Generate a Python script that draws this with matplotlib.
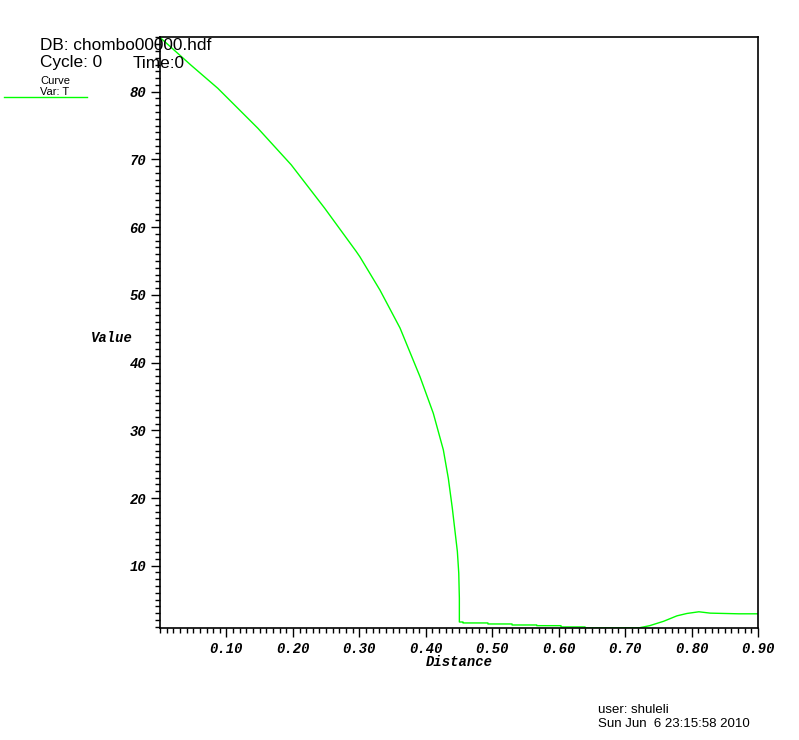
import matplotlib
matplotlib.use("Agg")
import matplotlib.pyplot as plt
from matplotlib.font_manager import FontProperties
from matplotlib.ticker import MultipleLocator, FormatStrFormatter

# curve values
distance = [0.0, 0.0467, 0.0869, 0.1472, 0.1974, 0.2477, 0.2953, 0.3009,
            0.3310, 0.3612, 0.3913, 0.4113, 0.4264, 0.4339, 0.4399, 0.4475,
            0.4496, 0.4505, 0.4505,
            0.456, 0.456, 0.4935, 0.4935, 0.5298, 0.5298, 0.567, 0.567,
            0.6035, 0.6035, 0.6397, 0.6397, 0.722, 0.737, 0.758, 0.778,
            0.793, 0.811, 0.828, 0.871, 0.9]
value = [88.0, 83.9, 80.5, 74.6, 69.2, 62.8, 56.4, 55.6,
         50.7, 45.1, 37.9, 32.5, 27.1, 22.9, 18.5, 12.1,
         8.9, 5.2, 1.69,
         1.69, 1.55, 1.55, 1.40, 1.40, 1.25, 1.25, 1.15,
         1.15, 0.96, 0.96, 0.83, 0.85, 1.15, 1.8, 2.6,
         2.95, 3.2, 3.0, 2.9, 2.9]

xticks = [0.1, 0.2, 0.3, 0.4, 0.5, 0.6, 0.7, 0.8, 0.9]
yticks = [10, 20, 30, 40, 50, 60, 70, 80]

mono = dict(family="Liberation Mono", weight="bold", style="italic")

fig = plt.figure(figsize=(7.99, 7.40), dpi=100)
ax = fig.add_axes([0.2003, 0.1514, 0.7484, 0.7986])
ax.plot(distance, value, color="#00ff00", lw=1.0)

ax.set_xlim(0, 0.9)
ax.set_ylim(0.81, 88.07)
ax.set_xticks(xticks)
ax.set_yticks(yticks)
ax.xaxis.set_major_formatter(FormatStrFormatter("%.2f"))
ax.yaxis.set_major_formatter(FormatStrFormatter("%d"))
ax.xaxis.set_minor_locator(MultipleLocator(0.01))
ax.yaxis.set_minor_locator(MultipleLocator(1))
ax.tick_params(which="major", direction="out", length=6.5, width=1)
ax.tick_params(which="minor", direction="out", length=3.6, width=1)
ax.tick_params(axis="x", which="major", pad=3.5)
ax.tick_params(axis="y", which="major", pad=3.5)
for lab in ax.get_xticklabels() + ax.get_yticklabels():
    lab.set_fontproperties(FontProperties(size=10, **mono))
for s in ax.spines.values():
    s.set_linewidth(1.2)

fig.text(459 / 799, 1 - 662 / 740, "Distance", ha="center", va="center", size=10, **mono)
fig.text(112 / 799, 1 - 338 / 740, "Value", ha="center", va="center", size=10, **mono)

fig.text(40 / 799, 1 - 46 / 740, "DB: chombo00000.hdf", ha="left", va="center",
         size=12.4, family="Liberation Sans")
fig.text(40 / 799, 1 - 63 / 740, "Cycle: 0", ha="left", va="center",
         size=12.4, family="Liberation Sans")
fig.text(133 / 799, 1 - 63 / 740, "Time:0", ha="left", va="center",
         size=12.4, family="Liberation Sans")
fig.text(40 / 799, 1 - 81 / 740, "Curve", ha="left", va="center",
         size=8, family="Liberation Sans")
fig.text(40 / 799, 1 - 92 / 740, "Var: T", ha="left", va="center",
         size=8, family="Liberation Sans")
fig.add_artist(plt.Line2D([4 / 799, 87 / 799], [1 - 97 / 740, 1 - 97 / 740],
                          color="#00ff00", lw=1.0))

fig.text(598 / 799, 1 - 710 / 740, "user: shuleli", ha="left", va="center",
         size=9.5, family="Liberation Sans")
fig.text(598 / 799, 1 - 724 / 740, "Sun Jun  6 23:15:58 2010", ha="left", va="center",
         size=9.5, family="Liberation Sans")

fig.savefig("out.png", dpi=100)
